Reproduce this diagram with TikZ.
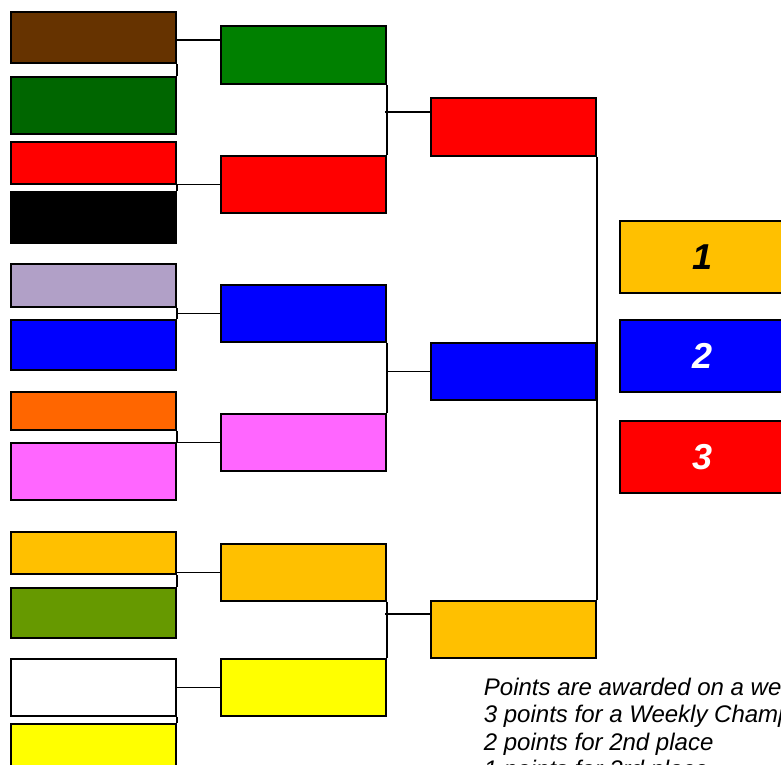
\documentclass[tikz,border=0pt]{standalone}
\usepackage{fontspec}
\setmainfont{Liberation Sans}
\usepackage{xcolor}
\usepackage{tikz}
\usetikzlibrary{positioning,calc}

\definecolor{mudbrown}{HTML}{663300}
\definecolor{darkleaf}{HTML}{006600}
\definecolor{leaf}{HTML}{008000}
\definecolor{lilac}{HTML}{B1A0C7}
\definecolor{tangerine}{HTML}{FF6600}
\definecolor{orchid}{HTML}{FF66FF}
\definecolor{amber}{HTML}{FFC000}
\definecolor{olive}{HTML}{669900}
\definecolor{lemon}{HTML}{FFFF00}

\begin{document}
\begin{tikzpicture}[x=1pt,y=-1pt,line width=1.8pt,
   slot/.style={draw,line width=1.8pt,anchor=north west,inner sep=0pt,
                minimum width=165pt},
   place/.style={slot,minimum height=72pt,
                 font=\fontsize{36}{40}\selectfont\bfseries\itshape},
   note/.style={anchor=base west,inner sep=0pt,
                font=\fontsize{24}{27}\selectfont\itshape}]
  \path[use as bounding box,clip] (0,0) rectangle (781,764);
  % first round
  \node[slot,fill=mudbrown,minimum height=51pt] (b1) at (10,11) {};
  \node[slot,fill=darkleaf,minimum height=57pt] (b2) at (10,76) {};
  \node[slot,fill=red,minimum height=42pt] (b3) at (10,141) {};
  \node[slot,fill=black,minimum height=51pt] (b4) at (10,191) {};
  \node[slot,fill=lilac,minimum height=43pt] (b5) at (10,263) {};
  \node[slot,fill=blue,minimum height=50pt] (b6) at (10,319) {};
  \node[slot,fill=tangerine,minimum height=38pt] (b7) at (10,391) {};
  \node[slot,fill=orchid,minimum height=57pt] (b8) at (10,442) {};
  \node[slot,fill=amber,minimum height=42pt] (b9) at (10,531) {};
  \node[slot,fill=olive,minimum height=50pt] (b10) at (10,587) {};
  \node[slot,fill=white,minimum height=57pt] (b11) at (10,658) {};
  \node[slot,fill=lemon,minimum height=57pt] (b12) at (10,723) {};
  % second round
  \node[slot,fill=leaf,minimum height=58pt] (r1) at (220,25) {};
  \node[slot,fill=red,minimum height=57pt] (r2) at (220,155) {};
  \node[slot,fill=blue,minimum height=57pt] (r3) at (220,284) {};
  \node[slot,fill=orchid,minimum height=57pt] (r4) at (220,413) {};
  \node[slot,fill=amber,minimum height=57pt] (r5) at (220,543) {};
  \node[slot,fill=lemon,minimum height=57pt] (r6) at (220,658) {};
  % final
  \node[slot,fill=red,minimum height=58pt] (s1) at (430,97) {};
  \node[slot,fill=blue,minimum height=57pt] (s2) at (430,342) {};
  \node[slot,fill=amber,minimum height=57pt] (s3) at (430,600) {};
  % places
  \node[place,fill=amber] (t1) at (619,220) {1};
  \node[place,fill=blue,text=white] (t2) at (619,319) {2};
  \node[place,fill=red,text=white] (t3) at (619,420) {3};

  % joins, first round
  \coordinate (j1) at (175,40);
  \draw (b1.south east) -- (b2.north east);
  \draw (j1) -- (j1 -| r1.west);
  \draw (b3.south east) -- (b4.north east);
  \draw (r2.west) -- (r2.west -| b3.east);
  \draw (b5.south east) -- (b6.north east);
  \draw (r3.west) -- (r3.west -| b5.east);
  \draw (b7.south east) -- (b8.north east);
  \draw (r4.west) -- (r4.west -| b7.east);
  \draw (b9.south east) -- (b10.north east);
  \draw (r5.west) -- (r5.west -| b9.east);
  \draw (b11.south east) -- (b12.north east);
  \draw (r6.west) -- (r6.west -| b11.east);
  % joins, second round
  \coordinate (k1) at (385,112);
  \coordinate (k3) at (385,614);
  \draw (r1.south east) -- (r2.north east);
  \draw (k1) -- (k1 -| s1.west);
  \draw (r3.south east) -- (r4.north east);
  \draw (s2.west) -- (s2.west -| r3.east);
  \draw (r5.south east) -- (r6.north east);
  \draw (k3) -- (k3 -| s3.west);
  % final line
  \draw (s1.south east) -- (s3.north east);

  \node[note] (n1) at (483,695) {Points are awarded on a weekly basis:};
  \node[note] (n2) at (483,722) {3 points for a Weekly Champion};
  \node[note] (n3) at (483,750) {2 points for 2nd place};
  \node[note] (n4) at (483,777) {1 points for 3rd place};
\end{tikzpicture}
\end{document}
